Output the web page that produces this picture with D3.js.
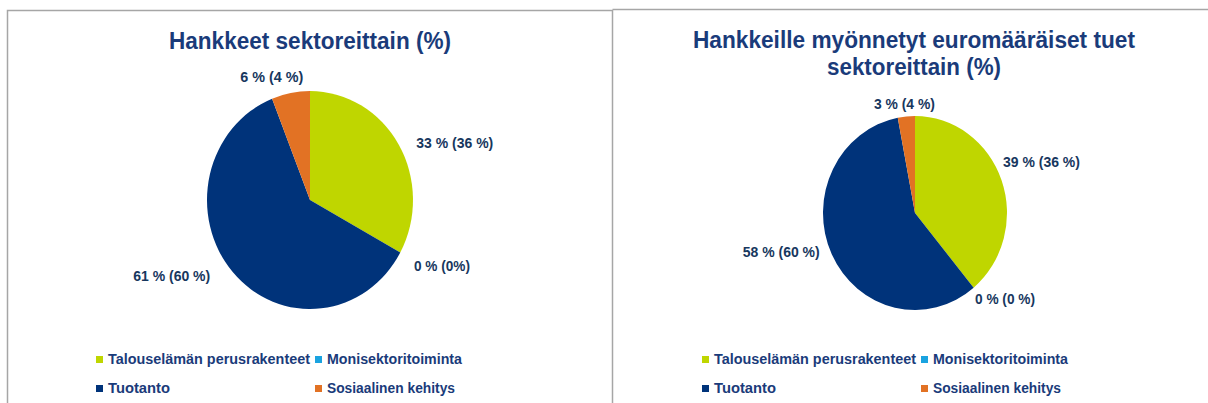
<!DOCTYPE html>
<html>
<head>
<meta charset="utf-8">
<script src="https://cdn.jsdelivr.net/npm/d3@7"></script>
<style>
  html, body { margin: 0; padding: 0; background: #ffffff; }
  svg { display: block; }
  text { font-family: "Liberation Sans", "Noto Sans", sans-serif; font-weight: bold; fill: #17375e; }
</style>
</head>
<body>
<svg id="chart" width="1208" height="403"></svg>
<script>
// ---- data ----
const categories = ["Talouselämän perusrakenteet", "Monisektoritoiminta", "Tuotanto", "Sosiaalinen kehitys"];
const projectShares = [33, 0, 61, 6];
const fundingShares = [39, 0, 58, 3];
const projectLabels = ["33 % (36 %)", "0 % (0%)", "61 % (60 %)", "6 % (4 %)"];
const fundingLabels = ["39 % (36 %)", "0 % (0 %)", "58 % (60 %)", "3 % (4 %)"];
const titleLeft = ["Hankkeet sektoreittain (%)"];
const titleRight = ["Hankkeille myönnetyt euromääräiset tuet", "sektoreittain (%)"];

// ---- styles / layout ----
const colors = ["#bfd600", "#1aa3e0", "#00337a", "#e27224"];
const svg = d3.select("#chart");

// panel frames
svg.append("path").attr("d", "M7.5,403 V10.5 H612.5 V403").attr("fill", "none").attr("stroke", "#a6a6a6").attr("stroke-width", 1.5);
svg.append("path").attr("d", "M612.5,9.5 H1208").attr("fill", "none").attr("stroke", "#a6a6a6").attr("stroke-width", 1.5);

const panels = [
  { values: projectShares, labels: projectLabels, title: titleLeft, titleX: 310, titleY: [49], titleW: [282],
    cx: 310, cy: 200, rx: 103, ry: 109,
    labelW: [77, 56, 77, 63], nudge: [[9, 4], [5, 9], [-15, -3], [-17, -6]],
    legendX: [96, 315], legendTextW: [202, 135, 62, 128] },
  { values: fundingShares, labels: fundingLabels, title: titleRight, titleX: 914, titleY: [48, 75], titleW: [442, 174],
    cx: 915, cy: 213, rx: 92, ry: 97,
    labelW: [77, 60, 77, 61], nudge: [[-8, -15], [-5, 3.5], [-3, -7], [-1, -3]],
    legendX: [702, 921], legendTextW: [202, 135, 62, 128] }
];

const pie = d3.pie().sort(null).value(d => d);

panels.forEach(p => {
  const g = svg.append("g");
  // title
  p.title.forEach((t, i) => {
    g.append("text").attr("x", p.titleX).attr("y", p.titleY[i]).attr("text-anchor", "middle")
      .attr("font-size", 23).attr("textLength", p.titleW[i]).attr("lengthAdjust", "spacingAndGlyphs")
      .style("fill", "#1a3b7a").text(t);
  });

  // pie (slightly elliptical, as in the source image)
  const arcs = pie(p.values);
  const arc = d3.arc().innerRadius(0).outerRadius(p.ry);
  const pg = g.append("g").attr("transform", `translate(${p.cx},${p.cy}) scale(${p.rx / p.ry},1)`);
  pg.selectAll("path").data(arcs).join("path")
    .attr("d", arc).attr("fill", (d, i) => colors[i]);

  // labels (outside end)
  arcs.forEach((a, i) => {
    const mid = (a.startAngle + a.endAngle) / 2;
    const s = Math.sin(mid), c = Math.cos(mid);
    const x = p.cx + (p.rx + 10) * s + p.nudge[i][0];
    const y = p.cy - (p.ry + 10) * c + p.nudge[i][1];
    const anchor = Math.abs(s) < 0.3 ? "middle" : (s > 0 ? "start" : "end");
    g.append("text").attr("x", x).attr("y", y).attr("dy", "0.36em").attr("text-anchor", anchor)
      .attr("font-size", 14).attr("textLength", p.labelW[i]).attr("lengthAdjust", "spacingAndGlyphs")
      .text(p.labels[i]);
  });

  // legend (2 x 2)
  categories.forEach((cat, i) => {
    const col = i === 0 || i === 2 ? 0 : 1;
    const row = i < 2 ? 0 : 1;
    const x = p.legendX[col];
    const y = 364 + row * 29;
    g.append("rect").attr("x", x).attr("y", y - 8).attr("width", 7).attr("height", 7).attr("fill", colors[i]);
    g.append("text").attr("x", x + 12).attr("y", y).attr("font-size", 14.5)
      .attr("textLength", p.legendTextW[i]).attr("lengthAdjust", "spacingAndGlyphs")
      .style("fill", "#1a3b7a").text(cat);
  });
});
</script>
</body>
</html>
